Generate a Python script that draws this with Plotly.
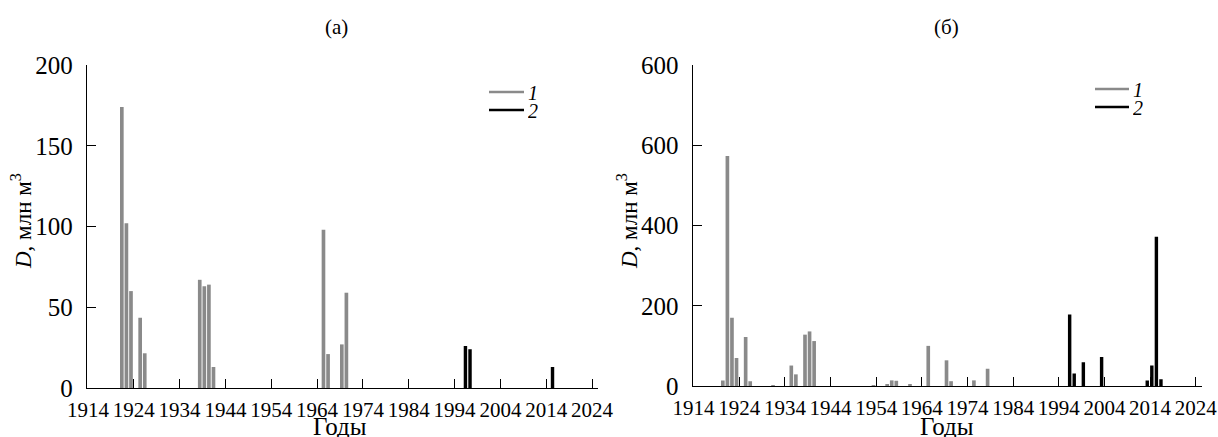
import plotly.graph_objects as go

# ---------- data ----------
# Panel (a)
a_gray_years = [1921, 1922, 1923, 1925, 1926, 1938, 1939, 1940, 1941, 1965, 1966, 1969, 1970]
a_gray_vals = [174, 102, 60, 43.5, 21.5, 67, 63, 64, 13, 98, 21, 27, 59]
a_black_years = [1996, 1997, 2015]
a_black_vals = [26, 24, 13]

# Panel (б)
b_gray_years = [1920, 1921, 1922, 1923, 1925, 1926, 1931, 1935, 1936, 1938, 1939, 1940,
                1953, 1956, 1957, 1958, 1961, 1965, 1969, 1970, 1975, 1978]
b_gray_vals = [14, 573, 170, 70, 122, 12, 2, 51, 29, 128, 136, 112,
               2, 3, 14, 13, 4, 100, 64, 12, 14, 43]
b_black_years = [1996, 1997, 1999, 2003, 2013, 2014, 2015, 2016]
b_black_vals = [178, 31, 59, 72, 14, 51, 372, 17]

x_tickvals = list(range(1914, 2025, 10))
a_y_tickvals = [0, 50, 100, 150, 200]
a_y_ticktext = ["0", "50", "100", "150", "200"]
b_y_tickvals = [0, 200, 400, 600, 800]
b_y_ticktext = ["0", "200", "400", "600", "600"]

legend_names = ["1", "2"]
panel_titles = ["(a)", "(б)"]
x_title = "Годы"
y_title = "<i>D</i>, млн м<sup>3</sup>"

GRAY = "#8a8a8a"
BLACK = "#000000"
FONT = "Liberation Serif"
W, H = 1218, 437

fig = go.Figure()

def add_bars(xs, ys, color, width, xa, ya):
    fig.add_trace(go.Bar(x=xs, y=ys, marker=dict(color=color, line=dict(width=0)),
                         width=width, offset=0, xaxis=xa, yaxis=ya, showlegend=False))

add_bars(a_gray_years, a_gray_vals, GRAY, 0.8, "x", "y")
add_bars(a_black_years, a_black_vals, BLACK, 0.75, "x", "y")
add_bars(b_gray_years, b_gray_vals, GRAY, 0.8, "x2", "y2")
add_bars(b_black_years, b_black_vals, BLACK, 0.75, "x2", "y2")

xaxis_common = dict(
    range=[1913.8, 2025.3], tickvals=x_tickvals, ticks="inside", ticklen=9, tickwidth=1.3,
    tickcolor="black", showline=True, linecolor="black", linewidth=1.3, showgrid=False,
    zeroline=False, automargin=False, ticklabelstandoff=3,
    tickfont=dict(family=FONT, size=21, color="black"),
)
yaxis_common = dict(
    ticks="inside", ticklen=9, tickwidth=1.3, tickcolor="black", showline=True,
    linecolor="black", linewidth=1.3, showgrid=False, zeroline=False, automargin=False,
    tickfont=dict(family=FONT, size=25, color="black"), ticklabelstandoff=8,
)

# legend drawn as line samples + italic labels (paper coordinates)
shapes = []
annotations = []
legend_pos = [(489, 524, 92, 18), (1095, 1129, 89, 18)]  # x0, x1, y first row, row gap (px)
for (x0, x1, y0, gap) in legend_pos:
    for i, (name, col) in enumerate(zip(legend_names, [GRAY, BLACK])):
        yy = 1 - (y0 + i * gap) / H
        shapes.append(dict(type="line", xref="paper", yref="paper", x0=x0 / W, x1=x1 / W,
                           y0=yy, y1=yy, line=dict(color=col, width=2.5)))
        annotations.append(dict(text=f"<i>{name}</i>", x=(x1 + 3) / W, y=yy, xref="paper",
                                yref="paper", xanchor="left", yanchor="middle", showarrow=False,
                                height=17, borderpad=0,
                                font=dict(family=FONT, size=20, color="black")))

for t, xc in zip(panel_titles, [336, 946]):
    annotations.append(dict(text=t, x=xc / W, y=1 - 27 / H, xref="paper", yref="paper",
                            xanchor="center", yanchor="middle", showarrow=False,
                            font=dict(family=FONT, size=21, color="black")))

# axis titles
for xc in [340, 947]:
    annotations.append(dict(text=x_title, x=xc / W, y=1 - 426 / H, xref="paper", yref="paper",
                            xanchor="center", yanchor="middle", showarrow=False,
                            height=22, borderpad=0,
                            font=dict(family=FONT, size=25, color="black")))
for xc in [21, 627]:
    annotations.append(dict(text=y_title, x=xc / W, y=1 - 221 / H, xref="paper", yref="paper",
                            xanchor="center", yanchor="middle", showarrow=False, textangle=-90,
                            font=dict(family=FONT, size=23, color="black")))

fig.update_layout(
    width=W, height=H,
    margin=dict(l=0, r=0, t=0, b=0, autoexpand=False),
    paper_bgcolor="white", plot_bgcolor="white",
    barmode="overlay", showlegend=False,
    font=dict(family=FONT, color="black"),
    xaxis=dict(domain=[87 / W, 598 / W], anchor="y", **xaxis_common),
    yaxis=dict(domain=[1 - 388 / H, 1 - 65 / H], anchor="x", range=[0, 200],
               tickvals=a_y_tickvals, ticktext=a_y_ticktext, **yaxis_common),
    xaxis2=dict(domain=[692.7 / W, 1201.7 / W], anchor="y2", **xaxis_common),
    yaxis2=dict(domain=[1 - 386 / H, 1 - 65 / H], anchor="x2", range=[0, 800],
                tickvals=b_y_tickvals, ticktext=b_y_ticktext, **yaxis_common),
    shapes=shapes,
    annotations=annotations,
)

fig.write_html("out.html", config={"displayModeBar": False},
               post_script="document.body.style.margin='0';document.body.style.overflow='hidden';")
